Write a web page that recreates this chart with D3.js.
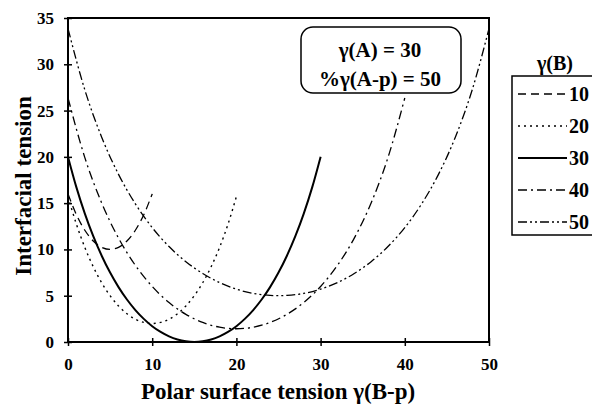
<!DOCTYPE html>
<html>
<head>
<meta charset="utf-8">
<script src="https://cdn.jsdelivr.net/npm/d3@7"></script>
<style>
  body { margin: 0; background: #fff; }
</style>
</head>
<body>
<svg id="chart" width="592" height="405"></svg>
<script>
// gamma(B) series, x = polar surface tension gamma(B-p), y = interfacial tension
const seriesNames = ["10", "20", "30", "40", "50"];

const x10 = [0, 1, 2, 3, 4, 5, 6, 7, 8, 9, 10];
const y10 = [16, 13.75, 12.07, 10.91, 10.23, 10, 10.23, 10.91, 12.07, 13.75, 16];

const x20 = [0, 1, 2, 3, 4, 5, 6, 7, 8, 9, 10, 11, 12, 13, 14, 15, 16, 17, 18, 19, 20];
const y20 = [15.71, 12.72, 10.21, 8.13, 6.4, 5, 3.89, 3.05, 2.46, 2.12, 2,
             2.12, 2.46, 3.05, 3.89, 5, 6.4, 8.13, 10.21, 12.72, 15.71];

const x30 = [0, 1, 2, 3, 4, 5, 6, 7, 8, 9, 10, 11, 12, 13, 14, 15,
             16, 17, 18, 19, 20, 21, 22, 23, 24, 25, 26, 27, 28, 29, 30];
const y30 = [20, 16.7, 13.87, 11.43, 9.32, 7.5, 5.93, 4.59, 3.45, 2.5, 1.71, 1.09, 0.61, 0.27, 0.07, 0,
             0.07, 0.27, 0.61, 1.09, 1.71, 2.5, 3.45, 4.59, 5.93, 7.5, 9.32, 11.43, 13.87, 16.7, 20];

const x40 = [0, 2, 4, 6, 8, 10, 12, 14, 16, 18, 20, 22, 24, 26, 28, 30, 32, 34, 36, 38, 40];
const y40 = [26.36, 19.92, 15.02, 11.22, 8.28, 6, 4.26, 2.99, 2.11, 1.6, 1.43,
             1.6, 2.11, 2.99, 4.26, 6, 8.28, 11.22, 15.02, 19.92, 26.36];

const x50 = [0, 2, 4, 6, 8, 10, 12, 14, 16, 18, 20, 22, 24, 25,
             26, 28, 30, 32, 34, 36, 38, 40, 42, 44, 46, 48, 50];
const y50 = [33.85, 27.23, 22.12, 18.11, 14.92, 12.36, 10.31, 8.68, 7.4, 6.42, 5.71, 5.25, 5.03, 5,
             5.03, 5.25, 5.71, 6.42, 7.4, 8.68, 10.31, 12.36, 14.92, 18.11, 22.12, 27.23, 33.85];

const xTicks = [0, 10, 20, 30, 40, 50];
const yTicks = [0, 5, 10, 15, 20, 25, 30, 35];
const noteLines = ["γ(A) = 30", "%γ(A-p) = 50"];

const xs = [x10, x20, x30, x40, x50];
const ys = [y10, y20, y30, y40, y50];
const dashes = ["8,5", "2,4", null, "9,4,2,4", "9,3,2,3,2,3"];
const widths = [1.3, 1.4, 2, 1.3, 1.3];

const FONT = "'Liberation Serif', Times, 'DejaVu Serif', serif";

const svg = d3.select("#chart");
const margin = { left: 68, top: 18, right: 103, bottom: 63 };
const width = 592 - margin.left - margin.right;
const height = 405 - margin.top - margin.bottom;

const x = d3.scaleLinear().domain([0, 50]).range([margin.left, margin.left + width]);
const y = d3.scaleLinear().domain([0, 35]).range([margin.top + height, margin.top]);

// Curves
const line = d3.line()
    .x(function(d) { return x(d[0]); })
    .y(function(d) { return y(d[1]); })
    .curve(d3.curveMonotoneX);

seriesNames.forEach(function(name, i) {
    const pts = xs[i].map(function(v, j) { return [v, ys[i][j]]; });
    svg.append("path")
        .datum(pts)
        .attr("d", line)
        .attr("fill", "none")
        .attr("stroke", "#000")
        .attr("stroke-width", widths[i])
        .attr("stroke-dasharray", dashes[i]);
});

// Frame
svg.append("rect")
    .attr("x", margin.left)
    .attr("y", margin.top)
    .attr("width", width)
    .attr("height", height)
    .attr("fill", "none")
    .attr("stroke", "#000")
    .attr("stroke-width", 2);

// Axes with crossing ticks
const xAxis = svg.append("g")
    .attr("transform", `translate(0, ${margin.top + height})`)
    .call(d3.axisBottom(x).tickValues(xTicks).tickSize(4).tickPadding(12).tickFormat(d3.format("d")));
xAxis.select(".domain").remove();
xAxis.selectAll(".tick line").attr("y1", -4).attr("stroke-width", 1.5);

const yAxis = svg.append("g")
    .attr("transform", `translate(${margin.left}, 0)`)
    .call(d3.axisLeft(y).tickValues(yTicks).tickSize(4).tickPadding(10).tickFormat(d3.format("d")));
yAxis.select(".domain").remove();
yAxis.selectAll(".tick line").attr("x1", 4).attr("stroke-width", 1.5);

svg.selectAll("g").attr("font-family", FONT).attr("font-size", 17);
svg.selectAll(".tick text")
    .attr("font-weight", "bold")
    .attr("fill", "#000");

// Axis titles
svg.append("text")
    .text("Polar surface tension γ(B-p)")
    .attr("font-family", FONT)
    .attr("font-weight", "bold")
    .attr("font-size", 23)
    .attr("x", 278)
    .attr("y", 399)
    .attr("text-anchor", "middle");

svg.append("text")
    .text("Interfacial tension")
    .attr("font-family", FONT)
    .attr("font-weight", "bold")
    .attr("font-size", 23)
    .attr("transform", "translate(31, 186) rotate(-90)")
    .attr("text-anchor", "middle");

// Annotation box
svg.append("rect")
    .attr("x", 301)
    .attr("y", 27)
    .attr("width", 160)
    .attr("height", 66)
    .attr("rx", 12)
    .attr("fill", "#fff")
    .attr("stroke", "#000")
    .attr("stroke-width", 1.5);

noteLines.forEach(function(t, i) {
    svg.append("text")
        .text(t)
        .attr("font-family", FONT)
        .attr("font-weight", "bold")
        .attr("font-size", 21)
        .attr("x", 380)
        .attr("y", 57 + i * 29)
        .attr("text-anchor", "middle");
});

// Legend
svg.append("text")
    .text("γ(B)")
    .attr("font-family", FONT)
    .attr("font-weight", "bold")
    .attr("font-size", 20)
    .attr("x", 555)
    .attr("y", 70)
    .attr("text-anchor", "middle");

svg.append("rect")
    .attr("x", 512)
    .attr("y", 76)
    .attr("width", 100)
    .attr("height", 159)
    .attr("fill", "none")
    .attr("stroke", "#000")
    .attr("stroke-width", 1.5);

const legend = svg.selectAll(".legend")
    .data(seriesNames)
    .enter().append("g")
    .attr("class", "legend")
    .attr("transform", function(d, i) { return `translate(518, ${94 + i * 32})`; });

legend.append("line")
    .attr("x1", 0)
    .attr("x2", 49)
    .attr("y1", 0)
    .attr("y2", 0)
    .attr("stroke", "#000")
    .attr("stroke-width", function(d, i) { return widths[i]; })
    .attr("stroke-dasharray", function(d, i) { return dashes[i]; });

legend.append("text")
    .text(function(d) { return d; })
    .attr("font-family", FONT)
    .attr("font-weight", "bold")
    .attr("font-size", 20)
    .attr("x", 51)
    .attr("y", 7);
</script>
</body>
</html>
